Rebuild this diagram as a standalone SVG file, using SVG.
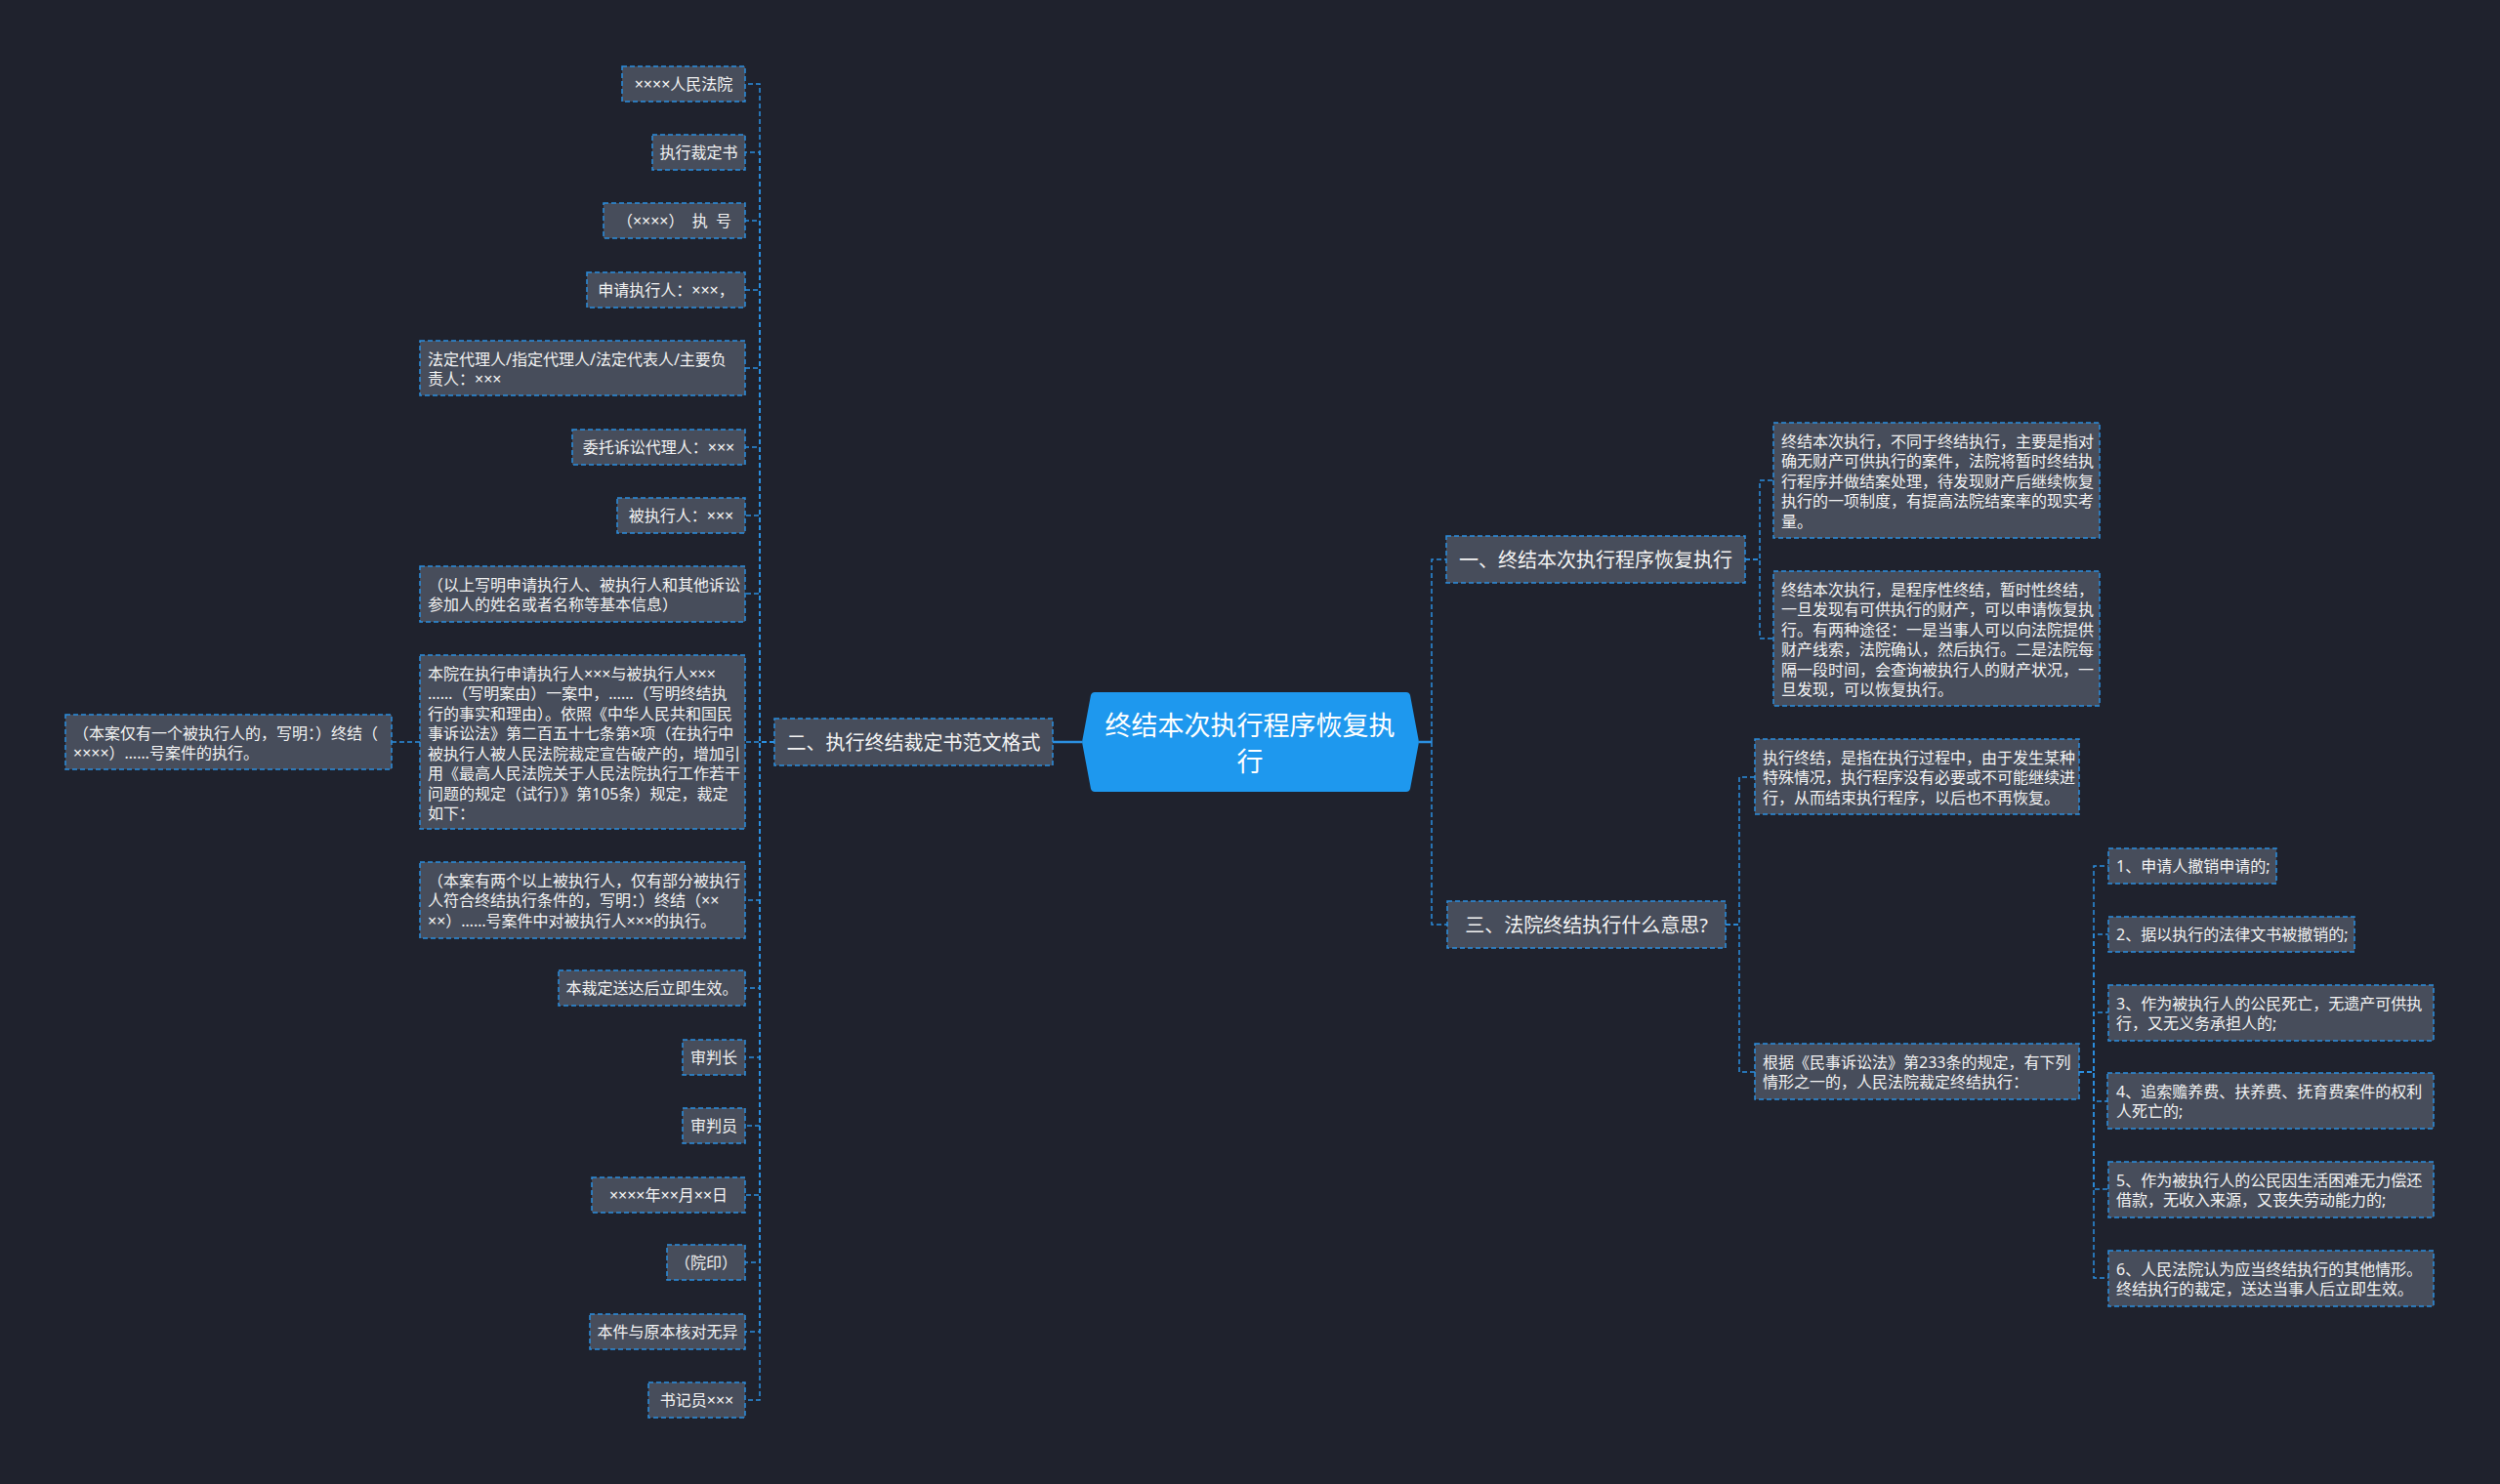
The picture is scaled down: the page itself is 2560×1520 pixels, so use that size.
<svg xmlns="http://www.w3.org/2000/svg" width="2560" height="1520" viewBox="0 0 2560 1520">
<style>
.n{fill:#474d5b;stroke:#2b8fe0;stroke-width:1.5;stroke-dasharray:5 3}
.c{fill:none;stroke:#2b8fe0;stroke-width:1.5;stroke-dasharray:5 3}
.s{fill:none;stroke:#2b8fe0;stroke-width:2.5}
text{font-family:"Noto Sans","Noto Sans CJK SC",sans-serif;fill:#f2f2f2;dominant-baseline:central}
.t{font-size:16px}
.m{font-size:16px;text-anchor:middle}
.t1{font-size:20px;text-anchor:middle}
.t0{font-size:27px;text-anchor:middle;fill:#ffffff}
</style>
<rect x="0" y="0" width="2560" height="1520" fill="#1f222d"/>
<g id="connectors">
<path class="s" d="M1108 760 H1078"/>
<path class="s" d="M1453 760 H1466"/>
<path class="c" d="M1466 760 V573 H1481"/>
<path class="c" d="M1466 760 V947 H1482"/>
<path class="c" d="M1787 573 H1802 V492 H1816"/>
<path class="c" d="M1787 573 H1802 V654 H1816"/>
<path class="c" d="M1767 947 H1781 V796 H1797"/>
<path class="c" d="M1767 947 H1781 V1098 H1797"/>
<path class="c" d="M2129 1098 H2144 V887 H2159"/>
<path class="c" d="M2129 1098 H2144 V957 H2159"/>
<path class="c" d="M2129 1098 H2144 V1037 H2159"/>
<path class="c" d="M2129 1098 H2144 V1128 H2158"/>
<path class="c" d="M2129 1098 H2144 V1218 H2159"/>
<path class="c" d="M2129 1098 H2144 V1309 H2159"/>
<path class="c" d="M793 760 H778 V86 H763"/>
<path class="c" d="M793 760 H778 V156 H763"/>
<path class="c" d="M793 760 H778 V226 H763"/>
<path class="c" d="M793 760 H778 V297 H763"/>
<path class="c" d="M793 760 H778 V377 H763"/>
<path class="c" d="M793 760 H778 V458 H763"/>
<path class="c" d="M793 760 H778 V528 H763"/>
<path class="c" d="M793 760 H778 V608 H763"/>
<path class="c" d="M793 760 H763"/>
<path class="c" d="M793 760 H778 V922 H763"/>
<path class="c" d="M793 760 H778 V1012 H763"/>
<path class="c" d="M793 760 H778 V1083 H763"/>
<path class="c" d="M793 760 H778 V1153 H763"/>
<path class="c" d="M793 760 H778 V1224 H763"/>
<path class="c" d="M793 760 H778 V1293 H763"/>
<path class="c" d="M793 760 H778 V1364 H763"/>
<path class="c" d="M793 760 H778 V1434 H763"/>
<path class="c" d="M430 760 H401"/>
</g>
<g id="root">
<path d="M1121 709 H1440 Q1443 709 1444 712 L1453 760 L1444 808 Q1443 811 1440 811 H1121 Q1118 811 1117 808 L1108 760 L1117 712 Q1118 709 1121 709 Z" fill="#1e98ee"/>
<text class="t0" x="1280" y="742">终结本次执行程序恢复执</text>
<text class="t0" x="1280" y="779">行</text>
</g>
<g id="b1"><rect class="n" x="1481" y="549" width="306" height="48"/><text class="t1" x="1634" y="573">一、终结本次执行程序恢复执行</text></g>
<g id="b2"><rect class="n" x="793" y="736" width="285" height="48"/><text class="t1" x="935.5" y="760">二、执行终结裁定书范文格式</text></g>
<g id="b3"><rect class="n" x="1482" y="923" width="285" height="48"/><text class="t1" x="1624.5" y="947">三、法院终结执行什么意思?</text></g>
<g id="a1"><rect class="n" x="1816" y="433" width="334" height="118"/>
<text class="t" x="1824" y="451.5">终结本次执行，不同于终结执行，主要是指对</text>
<text class="t" x="1824" y="472">确无财产可供执行的案件，法院将暂时终结执</text>
<text class="t" x="1824" y="492.5">行程序并做结案处理，待发现财产后继续恢复</text>
<text class="t" x="1824" y="513">执行的一项制度，有提高法院结案率的现实考</text>
<text class="t" x="1824" y="533.5">量。</text></g>
<g id="a2"><rect class="n" x="1816" y="585" width="334" height="138"/>
<text class="t" x="1824" y="603.5">终结本次执行，是程序性终结，暂时性终结，</text>
<text class="t" x="1824" y="624">一旦发现有可供执行的财产，可以申请恢复执</text>
<text class="t" x="1824" y="644.5">行。有两种途径：一是当事人可以向法院提供</text>
<text class="t" x="1824" y="665">财产线索，法院确认，然后执行。二是法院每</text>
<text class="t" x="1824" y="685.5">隔一段时间，会查询被执行人的财产状况，一</text>
<text class="t" x="1824" y="706">旦发现，可以恢复执行。</text></g>
<g id="c1"><rect class="n" x="1797" y="757" width="332" height="77"/>
<text class="t" x="1805" y="775.5">执行终结，是指在执行过程中，由于发生某种</text>
<text class="t" x="1805" y="796">特殊情况，执行程序没有必要或不可能继续进</text>
<text class="t" x="1805" y="816.5">行，从而结束执行程序，以后也不再恢复。</text></g>
<g id="c2"><rect class="n" x="1797" y="1069" width="332" height="57"/>
<text class="t" x="1805" y="1087.5">根据《民事诉讼法》第233条的规定，有下列</text>
<text class="t" x="1805" y="1108">情形之一的，人民法院裁定终结执行：</text></g>
<g id="d1"><rect class="n" x="2159" y="869" width="172" height="36"/><text class="t" x="2167" y="887">1、申请人撤销申请的;</text></g>
<g id="d2"><rect class="n" x="2159" y="939" width="252" height="36"/><text class="t" x="2167" y="957">2、据以执行的法律文书被撤销的;</text></g>
<g id="d3"><rect class="n" x="2159" y="1009" width="333" height="57"/>
<text class="t" x="2167" y="1027.5">3、作为被执行人的公民死亡，无遗产可供执</text>
<text class="t" x="2167" y="1048">行，又无义务承担人的;</text></g>
<g id="d4"><rect class="n" x="2158" y="1099" width="334" height="57"/>
<text class="t" x="2167" y="1117.5">4、追索赡养费、扶养费、抚育费案件的权利</text>
<text class="t" x="2167" y="1138">人死亡的;</text></g>
<g id="d5"><rect class="n" x="2159" y="1190" width="333" height="57"/>
<text class="t" x="2167" y="1208.5">5、作为被执行人的公民因生活困难无力偿还</text>
<text class="t" x="2167" y="1229">借款，无收入来源，又丧失劳动能力的;</text></g>
<g id="d6"><rect class="n" x="2159" y="1281" width="333" height="57"/>
<text class="t" x="2167" y="1299.5">6、人民法院认为应当终结执行的其他情形。</text>
<text class="t" x="2167" y="1320">终结执行的裁定，送达当事人后立即生效。</text></g>
<g id="l1"><rect class="n" x="637" y="68" width="126" height="36"/><text class="m" x="700" y="86">××××人民法院</text></g>
<g id="l2"><rect class="n" x="668" y="138" width="95" height="36"/><text class="m" x="715.5" y="156">执行裁定书</text></g>
<g id="l3"><rect class="n" x="618" y="208" width="145" height="36"/><text class="m" x="690.5" y="226" xml:space="preserve">（××××）  执  号</text></g>
<g id="l4"><rect class="n" x="601" y="279" width="162" height="36"/><text class="m" x="682" y="297">申请执行人：×××，</text></g>
<g id="l5"><rect class="n" x="430" y="349" width="333" height="56"/>
<text class="t" x="438" y="367.5">法定代理人/指定代理人/法定代表人/主要负</text>
<text class="t" x="438" y="388">责人：×××</text></g>
<g id="l6"><rect class="n" x="586" y="440" width="177" height="36"/><text class="m" x="674.5" y="458">委托诉讼代理人：×××</text></g>
<g id="l7"><rect class="n" x="632" y="510" width="131" height="36"/><text class="m" x="697.5" y="528">被执行人：×××</text></g>
<g id="l8"><rect class="n" x="430" y="580" width="333" height="57"/>
<text class="t" x="438" y="598.5">（以上写明申请执行人、被执行人和其他诉讼</text>
<text class="t" x="438" y="619">参加人的姓名或者名称等基本信息）</text></g>
<g id="l9"><rect class="n" x="430" y="671" width="333" height="178"/>
<text class="t" x="438" y="689.5">本院在执行申请执行人×××与被执行人×××</text>
<text class="t" x="438" y="710">……（写明案由）一案中，……（写明终结执</text>
<text class="t" x="438" y="730.5">行的事实和理由）。依照《中华人民共和国民</text>
<text class="t" x="438" y="751">事诉讼法》第二百五十七条第×项（在执行中</text>
<text class="t" x="438" y="771.5">被执行人被人民法院裁定宣告破产的，增加引</text>
<text class="t" x="438" y="792">用《最高人民法院关于人民法院执行工作若干</text>
<text class="t" x="438" y="812.5">问题的规定（试行）》第105条）规定，裁定</text>
<text class="t" x="438" y="833">如下：</text></g>
<g id="l10"><rect class="n" x="430" y="883" width="333" height="78"/>
<text class="t" x="438" y="901.5">（本案有两个以上被执行人，仅有部分被执行</text>
<text class="t" x="438" y="922">人符合终结执行条件的，写明：）终结（××</text>
<text class="t" x="438" y="942.5">××）……号案件中对被执行人×××的执行。</text></g>
<g id="l11"><rect class="n" x="572" y="994" width="191" height="36"/><text class="m" x="667.5" y="1012">本裁定送达后立即生效。</text></g>
<g id="l12"><rect class="n" x="699" y="1065" width="64" height="36"/><text class="m" x="731" y="1083">审判长</text></g>
<g id="l13"><rect class="n" x="699" y="1135" width="64" height="36"/><text class="m" x="731" y="1153">审判员</text></g>
<g id="l14"><rect class="n" x="606" y="1206" width="157" height="36"/><text class="m" x="684.5" y="1224">××××年××月××日</text></g>
<g id="l15"><rect class="n" x="683" y="1275" width="80" height="36"/><text class="m" x="723" y="1293">（院印）</text></g>
<g id="l16"><rect class="n" x="604" y="1346" width="159" height="36"/><text class="m" x="683.5" y="1364">本件与原本核对无异</text></g>
<g id="l17"><rect class="n" x="664" y="1416" width="99" height="36"/><text class="m" x="713.5" y="1434">书记员×××</text></g>
<g id="f1"><rect class="n" x="67" y="732" width="334" height="56"/>
<text class="t" x="75" y="750.5">（本案仅有一个被执行人的，写明：）终结（</text>
<text class="t" x="75" y="771">××××）……号案件的执行。</text></g>
</svg>
